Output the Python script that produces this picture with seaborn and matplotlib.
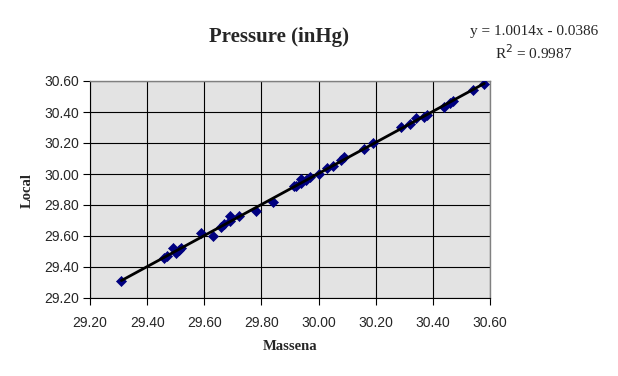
import matplotlib
matplotlib.use("Agg")
import matplotlib.pyplot as plt
import seaborn as sns
import numpy as np
import pandas as pd

massena = [29.31, 29.46, 29.47, 29.49, 29.50, 29.51, 29.52, 29.59, 29.63, 29.66,
           29.67, 29.69, 29.69, 29.72, 29.78, 29.84, 29.915, 29.92, 29.94, 29.94,
           29.956, 29.97, 30.00, 30.03, 30.05, 30.08, 30.09, 30.16, 30.19, 30.29,
           30.32, 30.34, 30.37, 30.38, 30.44, 30.46, 30.47, 30.54, 30.58]
local = [29.31, 29.46, 29.47, 29.52, 29.49, 29.51, 29.52, 29.62, 29.60, 29.66,
         29.68, 29.73, 29.70, 29.73, 29.76, 29.82, 29.92, 29.92, 29.97, 29.94,
         29.96, 29.98, 30.00, 30.04, 30.05, 30.09, 30.11, 30.16, 30.20, 30.30,
         30.32, 30.36, 30.37, 30.38, 30.43, 30.46, 30.47, 30.54, 30.58]
slope = 1.0014
intercept = -0.0386
r2 = 0.9987
ticks = [29.20, 29.40, 29.60, 29.80, 30.00, 30.20, 30.40, 30.60]

df = pd.DataFrame({"Massena": massena, "Local": local})

sns.set_style("white")
fig = plt.figure(figsize=(6.18, 3.76), dpi=100)
ax = fig.add_axes([90/618, 1-298/376, 400/618, 217/376])
ax.set_facecolor("#e3e3e3")

ax.grid(True, color="black", linewidth=0.8)
ax.set_axisbelow(True)

sns.scatterplot(data=df, x="Massena", y="Local", ax=ax, marker="D", s=26,
                color="#000080", edgecolor="#000080", linewidth=0.5, zorder=3)
xs = np.array([min(massena), max(massena)])
ax.plot(xs, slope * xs + intercept, color="black", linewidth=2.0, zorder=4)

ax.set_xlim(29.2, 30.6)
ax.set_ylim(29.2, 30.6)
ax.set_xticks(ticks)
ax.set_yticks(ticks)
ax.set_xticklabels([f"{t:.2f}" for t in ticks])
ax.set_yticklabels([f"{t:.2f}" for t in ticks])
ax.set_xlabel("")
ax.set_ylabel("")
ax.tick_params(axis="both", which="both", direction="out", length=5, width=0.8,
               color="black", labelsize=10)
ax.tick_params(axis="x", pad=8)
ax.tick_params(axis="y", pad=3, left=True)
ax.tick_params(axis="x", bottom=True)
for lab in ax.get_xticklabels() + ax.get_yticklabels():
    lab.set_family("Liberation Sans")

for side in ["left", "bottom"]:
    ax.spines[side].set_color("black")
    ax.spines[side].set_linewidth(0.8)
for side in ["top", "right"]:
    ax.spines[side].set_color("#808080")
    ax.spines[side].set_linewidth(1.0)

serif = "Liberation Serif"
fig.text(279/618, 1-37/376, "Pressure (inHg)", ha="center", va="center",
         family=serif, fontsize=15, fontweight="bold")
fig.text(290/618, 1-347/376, "Massena", ha="center", va="center",
         family=serif, fontsize=10.5, fontweight="bold")
fig.text(27/618, 1-190/376, "Local", ha="center", va="center", rotation=90,
         family=serif, fontsize=10.5, fontweight="bold")
fig.text(534/618, 1-32/376, f"y = {slope:.4f}x - {abs(intercept):.4f}",
         ha="center", va="center", family=serif, fontsize=11)
fig.text(534/618, 1-53/376, f"R$^2$ = {r2:.4f}",
         ha="center", va="center", family=serif, fontsize=11)

fig.savefig("out.png", dpi=100)
